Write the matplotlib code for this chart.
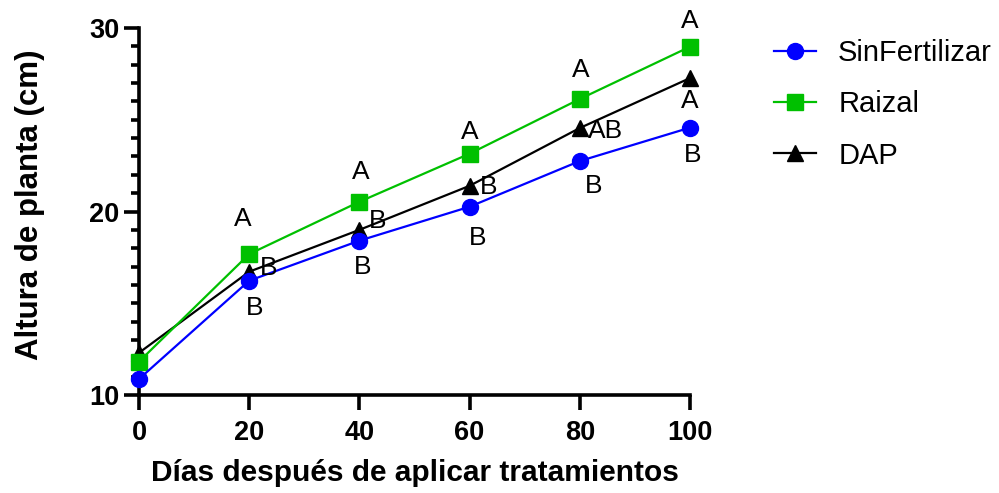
import matplotlib
matplotlib.use("Agg")
import matplotlib.pyplot as plt
from matplotlib.ticker import MultipleLocator

plt.rcParams['font.family'] = ['Liberation Sans', 'DejaVu Sans']

dias = [0, 20, 40, 60, 80, 100]
sin_fertilizar = [10.87, 16.23, 18.41, 20.26, 22.75, 24.57]
raizal = [11.82, 17.68, 20.53, 23.15, 26.13, 28.98]
dap = [12.3, 16.72, 19.0, 21.4, 24.55, 27.27]

letras_sin = ['', 'B', 'B', 'B', 'B', 'B']
letras_raizal = ['', 'A', 'A', 'A', 'A', 'A']
letras_dap = ['', 'B', 'B', 'B', 'AB', 'A']

# label offsets from each marker, in pixels (x right, y up)
off_sin = [(0, 0), (5, -27), (3, -26), (8, -31), (14, -25), (3, -27)]
off_raizal = [(0, 0), (-6, 35), (1, 30), (0, 22), (1, 29), (0, 26)]
off_dap = [(0, 0), (19, 4), (18, 9), (19, -1), (26, -3), (0, -23)]

azul = '#0000FF'
verde = '#00C000'

fig = plt.figure(figsize=(9.99, 4.93), dpi=100)
ax = fig.add_axes([139/999, 98/493, (690-139)/999, (395-28)/493])

ax.plot(dias, dap, color='black', lw=1.6, marker='^', ms=11, label='DAP',
        zorder=3, clip_on=False)
ax.plot(dias, raizal, color=verde, lw=1.6, marker='s', ms=11.5, label='Raizal',
        zorder=4, clip_on=False)
ax.plot(dias, sin_fertilizar, color=azul, lw=1.6, marker='o', ms=11.5,
        label='SinFertilizar', zorder=5, clip_on=False)

px = 72 / 100
for serie, letras, offs in ((raizal, letras_raizal, off_raizal),
                            (sin_fertilizar, letras_sin, off_sin),
                            (dap, letras_dap, off_dap)):
    for x, y, t, (dx, dy) in zip(dias, serie, letras, offs):
        if t:
            ax.annotate(t, (x, y), xytext=(dx * px, dy * px),
                        textcoords='offset points', ha='center', va='center',
                        fontsize=19, clip_on=False, zorder=6)

ax.set_xlim(0, 100)
ax.set_ylim(10, 30)
ax.set_xticks([0, 20, 40, 60, 80, 100])
ax.set_yticks([10, 20, 30])
ax.yaxis.set_minor_locator(MultipleLocator(1))

for s in ['top', 'right']:
    ax.spines[s].set_visible(False)
for s in ['left', 'bottom']:
    ax.spines[s].set_linewidth(2.6)
    ax.spines[s].set_capstyle('projecting')

ax.tick_params(axis='both', which='major', length=11, width=2.6, direction='out',
               labelsize=19.5, pad=3)
ax.tick_params(axis='x', which='major', pad=7)
ax.tick_params(axis='y', which='minor', length=6, width=2.6, direction='out')
for lab in ax.get_xticklabels() + ax.get_yticklabels():
    lab.set_fontweight('bold')

ax.set_xlabel('Días después de aplicar tratamientos', fontsize=21.5, fontweight='bold')
ax.set_ylabel('Altura de planta (cm)', fontsize=22.5, fontweight='bold')
ax.xaxis.set_label_coords(414.5/999, 1 - 459/493, transform=fig.transFigure)
ax.yaxis.set_label_coords(45/999, 1 - 205/493, transform=fig.transFigure)

handles, labels = ax.get_legend_handles_labels()
order = [2, 1, 0]
leg = fig.legend([handles[i] for i in order], [labels[i] for i in order],
                 loc='upper left', bbox_to_anchor=(774/999, 1 - 39/493),
                 frameon=False, fontsize=21, handlelength=1.45, handletextpad=0.75,
                 labelspacing=0.8, borderaxespad=0, borderpad=0)

fig.savefig('out.png', dpi=100)
